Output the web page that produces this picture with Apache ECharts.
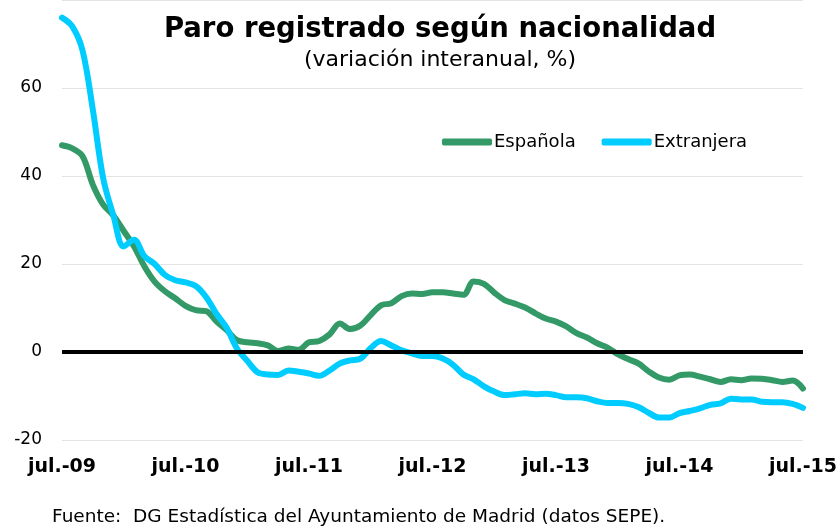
<!DOCTYPE html>
<html>
<head>
<meta charset="utf-8">
<script src="https://cdn.jsdelivr.net/npm/echarts@6/dist/echarts.min.js"></script>
<style>
  html, body { margin: 0; padding: 0; background: #fff; }
  #chart { width: 840px; height: 527px; }
</style>
</head>
<body>
<div id="chart"></div>
<script>
// meses jul.-09 .. jul.-15
const months = [
  'jul.-09','ago.-09','sep.-09','oct.-09','nov.-09','dic.-09','ene.-10','feb.-10','mar.-10','abr.-10','may.-10','jun.-10',
  'jul.-10','ago.-10','sep.-10','oct.-10','nov.-10','dic.-10','ene.-11','feb.-11','mar.-11','abr.-11','may.-11','jun.-11',
  'jul.-11','ago.-11','sep.-11','oct.-11','nov.-11','dic.-11','ene.-12','feb.-12','mar.-12','abr.-12','may.-12','jun.-12',
  'jul.-12','ago.-12','sep.-12','oct.-12','nov.-12','dic.-12','ene.-13','feb.-13','mar.-13','abr.-13','may.-13','jun.-13',
  'jul.-13','ago.-13','sep.-13','oct.-13','nov.-13','dic.-13','ene.-14','feb.-14','mar.-14','abr.-14','may.-14','jun.-14',
  'jul.-14','ago.-14','sep.-14','oct.-14','nov.-14','dic.-14','ene.-15','feb.-15','mar.-15','abr.-15','may.-15','jun.-15',
  'jul.-15'
]

const espanola = [
  47, 46.3, 44.5, 38, 33.5, 31, 27.5, 24, 19.5, 16, 13.8, 12.2,
  10.5, 9.5, 9.3, 7, 5, 2.7, 2.2, 2, 1.5, 0.2, 0.8, 0.5,
  2.2, 2.5, 4, 6.5, 5.2, 6, 8.4, 10.6, 11.1, 12.7, 13.3, 13.2,
  13.6, 13.6, 13.3, 13.0, 16, 15.5, 13.5, 11.8, 11, 10.1, 8.8, 7.6,
  6.9, 5.8, 4.3, 3.3, 2, 1, -0.5, -1.6, -2.6, -4.4, -5.8, -6.3,
  -5.3, -5.1, -5.6, -6.2, -6.8, -6.2, -6.4, -6.0, -6.1, -6.4, -6.8, -6.5,
  -8.3
]

const extranjera = [
  76, 74, 68.5, 55, 39.5, 31, 24, 25.5, 21.8, 20, 17.5, 16.3,
  15.8, 15, 12.5, 8.7, 5.5, 0.8, -2, -4.6, -5.1, -5.2, -4.2, -4.5,
  -4.9, -5.4, -4.2, -2.6, -1.9, -1.5, 0.9, 2.5, 1.5, 0.4, -0.3, -0.9,
  -0.9, -1.5, -2.9, -5.1, -6.2, -7.8, -9.0, -9.8, -9.6, -9.4, -9.6, -9.5,
  -9.8, -10.3, -10.3, -10.5, -11.2, -11.6, -11.6, -11.8, -12.5, -13.8, -14.9, -14.9,
  -13.9, -13.4, -12.8, -12, -11.7, -10.6, -10.8, -10.8, -11.3, -11.4, -11.4, -11.8,
  -12.7
]

const yTicks = [-20, 0, 20, 40, 60]

const FONT = '"DejaVu Sans", Verdana, sans-serif'

const chart = echarts.init(document.getElementById('chart'))

const option = {
  animation: false,
  title: [
    {
      text: 'Paro registrado según nacionalidad',
      left: 435, top: 11, textAlign: 'center',
      textStyle: { fontFamily: FONT, fontSize: 27.5, fontWeight: 'bold', color: '#000' }
    },
    {
      text: '(variación interanual, %)',
      left: 435, top: 44, textAlign: 'center',
      textStyle: { fontFamily: FONT, fontSize: 22, fontWeight: 'normal', color: '#000' }
    },
    {
      text: 'Fuente:  DG Estadística del Ayuntamiento de Madrid (datos SEPE).',
      left: 47, top: 503,
      textStyle: { fontFamily: FONT, fontSize: 18.5, fontWeight: 'normal', color: '#000' }
    }
  ],
  legend: {
    left: 437, top: 128,
    itemWidth: 50, itemHeight: 7, itemGap: 26,
    icon: 'roundRect',
    textStyle: { fontFamily: FONT, fontSize: 18, color: '#000', padding: [0, 0, 0, -3] },
    data: ['Española', 'Extranjera']
  },
  grid: { left: 62, right: 32, top: 0, bottom: 87, containLabel: false },
  xAxis: {
    type: 'category',
    data: months,
    boundaryGap: false,
    axisLine: { show: false },
    axisTick: { show: false },
    axisLabel: {
      interval: 11,
      margin: 18,
      fontFamily: FONT, fontSize: 19, fontWeight: 'bold', color: '#000',
      formatter: v => v
    }
  },
  yAxis: {
    type: 'value',
    min: -20, max: 80, interval: 20,
    axisLine: { show: false },
    axisTick: { show: false },
    splitLine: { lineStyle: { color: '#e3e3e3', width: 1 } },
    axisLabel: {
      margin: 20,
      fontFamily: FONT, fontSize: 17, color: '#000',
      formatter: v => (yTicks.indexOf(v) >= 0 ? String(v) : '')
    }
  },
  series: [
    {
      name: 'cero',
      type: 'line',
      data: [],
      z: 1,
      markLine: {
        silent: true,
        symbol: 'none',
        label: { show: false },
        lineStyle: { color: '#000', width: 4, type: 'solid' },
        data: [{ yAxis: 0 }]
      }
    },
    {
      name: 'Española',
      type: 'line',
      data: espanola,
      smooth: 0.35,
      showSymbol: false,
      z: 3,
      color: '#339966',
      lineStyle: { color: '#339966', width: 6, cap: 'round', join: 'round' }
    },
    {
      name: 'Extranjera',
      type: 'line',
      data: extranjera,
      smooth: 0.35,
      showSymbol: false,
      z: 4,
      color: '#00ccff',
      lineStyle: { color: '#00ccff', width: 6, cap: 'round', join: 'round' }
    }
  ]
}

chart.setOption(option)
</script>
</body>
</html>
